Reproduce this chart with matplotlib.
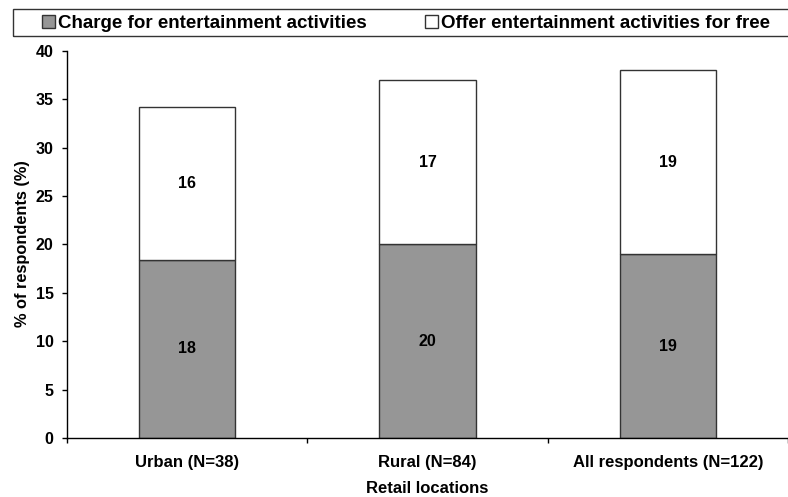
import numpy as np
import matplotlib
matplotlib.use("Agg")
import matplotlib.pyplot as plt
from matplotlib.patches import Rectangle

# values (% of respondents)
locations = ["Urban (N=38)", "Rural (N=84)", "All respondents (N=122)"]
charge = [18.4, 20.0, 19.0]
free = [15.8, 17.0, 19.0]
charge_labels = ["18", "20", "19"]
free_labels = ["16", "17", "19"]
series_names = ["Charge for entertainment activities",
                "Offer entertainment activities for free"]

plt.rcParams['font.family'] = ['Liberation Sans', 'DejaVu Sans']
plt.rcParams['font.weight'] = 'bold'

fig = plt.figure(figsize=(7.88, 4.97), dpi=100)
ax = fig.add_axes([0.085, 0.1187, 0.915, 0.7793])

x = np.arange(len(locations))
edge = '#333333'
b1 = ax.bar(x, charge, width=0.4, color='#969696', edgecolor=edge, linewidth=1)
b2 = ax.bar(x, free, width=0.4, bottom=charge, color='white', edgecolor=edge, linewidth=1)

# segment labels
for i in range(len(x)):
    ax.text(x[i], charge[i] / 2, charge_labels[i], ha='center', va='center',
            fontsize=11.5, fontweight='bold')
    ax.text(x[i], charge[i] + free[i] / 2, free_labels[i], ha='center', va='center',
            fontsize=11.5, fontweight='bold')

ax.set_xlim(-0.5, len(x) - 0.5)
ax.set_ylim(0, 40)
ax.set_yticks(np.arange(0, 41, 5))
ax.tick_params(axis='y', direction='out', length=3.6, width=1, labelsize=11.5, pad=6)

# ticks between categories, labels in the middle
ax.set_xticks(np.arange(-0.5, len(x), 1.0))
ax.set_xticklabels([])
ax.tick_params(axis='x', which='major', direction='out', length=3.6, width=1)
ax.set_xticks(x, minor=True)
ax.set_xticklabels(locations, minor=True)
ax.tick_params(axis='x', which='minor', length=0, pad=12, labelsize=12)

for lab in ax.get_xticklabels(minor=True) + ax.get_yticklabels():
    lab.set_fontweight('bold')

ax.spines['top'].set_visible(False)
ax.spines['right'].set_visible(False)
ax.spines['left'].set_linewidth(1)
ax.spines['bottom'].set_linewidth(1)

ax.set_xlabel("Retail locations", fontsize=12, fontweight='bold', labelpad=8)
fig.text(23 / 788, (497 - 243.5) / 497, "% of respondents (%)", ha='center', va='center',
         rotation=90, fontsize=11.8, fontweight='bold')

# legend box across the top
fig.patches.append(Rectangle((12.5 / 788, (497 - 36) / 497), 1.0, 27.5 / 497,
                             transform=fig.transFigure, fill=False,
                             edgecolor='#333333', linewidth=1))
fig.legend([b1, b2], series_names, loc='center left', ncol=2,
           bbox_to_anchor=(42 / 788, (497 - 23.5) / 497), frameon=False,
           prop={'size': 13.5, 'weight': 'bold'}, handlelength=0.7, handleheight=0.7,
           handletextpad=0.15, columnspacing=3.1, borderaxespad=0, borderpad=0)

fig.savefig("out.png", dpi=100)
